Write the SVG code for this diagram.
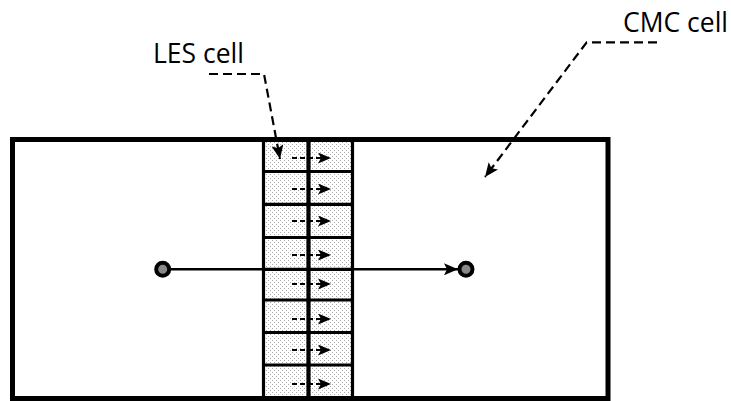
<svg xmlns="http://www.w3.org/2000/svg" width="731" height="401" viewBox="0 0 731 401">
<defs>
<style>
.lbl{font-family:"Open Sans","Noto Sans","Liberation Sans",sans-serif;font-size:26.5px;fill:#000}
.grid{stroke:#000;stroke-width:3.2;fill:none}
.rowarr{stroke:#000;stroke-width:2.2;stroke-dasharray:5,3;fill:none}
.leader{stroke:#000;stroke-width:2.2;stroke-dasharray:9,5;fill:none}
.pt{fill:#888;stroke:#000;stroke-width:4}
</style>
<pattern id="dots" width="4" height="4" patternUnits="userSpaceOnUse">
<rect width="4" height="4" fill="#fff"/>
<rect x="0" y="0" width="1" height="1" fill="#aaa"/>
<rect x="2" y="2" width="1" height="1" fill="#aaa"/>
</pattern>
<marker id="ah" markerUnits="userSpaceOnUse" viewBox="0 0 13 11" markerWidth="13" markerHeight="11" refX="13" refY="5.5" orient="auto">
<path d="M0,0 L13,5.5 L0,11 L3,5.5 z" fill="#000"/>
</marker>
<marker id="ahL" markerUnits="userSpaceOnUse" viewBox="0 0 14 12" markerWidth="14" markerHeight="12" refX="14" refY="6" orient="auto">
<path d="M0,0 L14,6 L0,12 L3,6 z" fill="#000"/>
</marker>
</defs>
<rect width="731" height="401" fill="#fff"/>
<g id="cmc-cell">
<rect x="12.5" y="139.5" width="595.5" height="259" fill="#fff"/>
</g>
<g id="les-cell">
<rect x="263.5" y="139.5" width="89" height="259" fill="url(#dots)"/>
<line class="grid" x1="263.5" y1="139.5" x2="263.5" y2="398.5"/>
<line class="grid" x1="308.5" y1="139.5" x2="308.5" y2="398.5" style="stroke-width:4.2"/>
<line class="grid" x1="352.5" y1="139.5" x2="352.5" y2="398.5"/>
<line class="grid" x1="263.5" y1="171.5" x2="352.5" y2="171.5"/>
<line class="grid" x1="263.5" y1="204.3" x2="352.5" y2="204.3"/>
<line class="grid" x1="263.5" y1="237.5" x2="352.5" y2="237.5"/>
<line class="grid" x1="263.5" y1="269.3" x2="352.5" y2="269.3"/>
<line class="grid" x1="263.5" y1="300" x2="352.5" y2="300"/>
<line class="grid" x1="263.5" y1="332.5" x2="352.5" y2="332.5"/>
<line class="grid" x1="263.5" y1="365" x2="352.5" y2="365"/>
</g>
<g id="cmc-border">
<rect x="12.5" y="139.5" width="595.5" height="259" fill="none" stroke="#000" stroke-width="5"/>
</g>
<g id="labels">
<text class="lbl" x="153" y="62.5">LES cell</text>
<text class="lbl" x="623" y="31.5">CMC cell</text>
</g>
<g id="connectors">
<line class="rowarr" x1="292" y1="158" x2="331" y2="158" marker-end="url(#ah)"/>
<line class="rowarr" x1="292" y1="189" x2="331" y2="189" marker-end="url(#ah)"/>
<line class="rowarr" x1="292" y1="221" x2="331" y2="221" marker-end="url(#ah)"/>
<line class="rowarr" x1="292" y1="255" x2="331" y2="255" marker-end="url(#ah)"/>
<line class="rowarr" x1="292" y1="284" x2="331" y2="284" marker-end="url(#ah)"/>
<line class="rowarr" x1="292" y1="319" x2="331" y2="319" marker-end="url(#ah)"/>
<line class="rowarr" x1="292" y1="350" x2="331" y2="350" marker-end="url(#ah)"/>
<line class="rowarr" x1="292" y1="384" x2="331" y2="384" marker-end="url(#ah)"/>
<line x1="170" y1="269.3" x2="458" y2="269.3" stroke="#000" stroke-width="2.5" marker-end="url(#ahL)"/>
<path class="leader" d="M209,74 L264,74 L280,159" marker-end="url(#ahL)"/>
<path class="leader" d="M657,42.3 L586.7,42.3 L485,177" marker-end="url(#ahL)"/>
</g>
<g id="point-a">
<circle class="pt" cx="162.7" cy="269.3" r="6.5"/>
</g>
<g id="point-b">
<circle class="pt" cx="466" cy="269.3" r="6.5"/>
</g>
</svg>
